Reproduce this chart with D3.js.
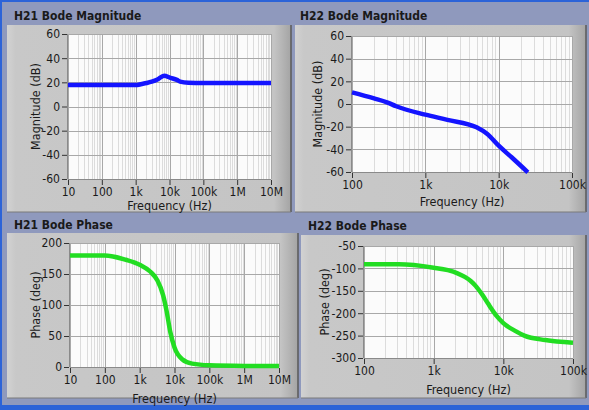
<!DOCTYPE html>
<html>
<head>
<meta charset="utf-8">
<script src="https://d3js.org/d3.v7.min.js"></script>
<style>
body { margin: 0; padding: 0; background: #8f99bd; }
svg text { font-family: "Liberation Sans Narrow", "DejaVu Sans Condensed", "Liberation Sans", sans-serif; fill: #1a1a1a; }
.title { font-weight: bold; font-size: 12px; }
.tick { font-size: 12px; }
.lbl { font-size: 12.5px; }
</style>
</head>
<body>
<svg id="chart" width="589" height="410"></svg>
<script>
// values
var h21MagFreq = [10, 100, 1000, 1500, 2100, 3000, 4400, 6900, 10700, 16500, 20600, 36000, 100000, 1e6, 1e7];
var h21MagDb   = [17.7, 17.7, 17.7, 18.6, 19.4, 20.5, 22.3, 25.5, 23.7, 22, 20.6, 19.7, 19.5, 19.5, 19.5];

var h22MagFreq = [100, 200, 300, 400, 1000, 2000, 5000, 7000, 10000, 15000, 25000];
var h22MagDb   = [10.3, 5, 1.5, -2, -9.4, -14, -20.6, -26.5, -36.8, -47, -60.3];

var h21PhFreq = [10, 100, 400, 1000, 2000, 3200, 4700, 5900, 7600, 10000, 16600, 32000, 100000, 1e6, 1e7];
var h21PhDeg  = [180, 180, 173, 165, 154, 140, 116, 91, 56, 31.5, 12.5, 5.4, 2.7, 1.8, 1.6];

var h22PhFreq = [100, 316, 1000, 1600, 2200, 2800, 3400, 4000, 5000, 6000, 8000, 10000, 15000, 20000, 40000, 100000];
var h22PhDeg  = [-91, -91, -98.5, -104, -111, -119, -128, -139, -159, -178, -206, -222, -240, -250, -260, -266];

var freqTicks  = [10, 100, 1000, 10000, 100000, 1e6, 1e7];
var freqLabels = ["10", "100", "1k", "10k", "100k", "1M", "10M"];
var magTicks   = [60, 40, 20, 0, -20, -40, -60];
var h21PhTicks = [200, 150, 100, 50, 0];
var h22PhTicks = [-50, -100, -150, -200, -250, -300];

var svg = d3.select("#chart");

// window frame
svg.append("rect").attr("x",0).attr("y",0).attr("width",589).attr("height",410).attr("fill","#8f99bd");
svg.append("rect").attr("x",0).attr("y",0).attr("width",589).attr("height",2).attr("fill","#2c63d8");
svg.append("rect").attr("x",0).attr("y",0).attr("width",2).attr("height",410).attr("fill","#2c63d8");
svg.append("rect").attr("x",0).attr("y",405).attr("width",589).attr("height",5).attr("fill","#2c63d8");

var defs = svg.append("defs");
var grad = defs.append("linearGradient").attr("id","pg").attr("x1","0").attr("x2","1").attr("y1","0").attr("y2","0");
grad.append("stop").attr("offset","0%").attr("stop-color","#d2d2d2");
grad.append("stop").attr("offset","3%").attr("stop-color","#c8c8c8");
grad.append("stop").attr("offset","94%").attr("stop-color","#c4c4c4");
grad.append("stop").attr("offset","100%").attr("stop-color","#a4a4a4");

function fmtFreq(d) {
  var i = freqTicks.indexOf(d);
  return i >= 0 ? freqLabels[i] : "";
}

function drawPanel(p) {
  // panel box
  svg.append("text").attr("class","title").attr("x",p.tx).attr("y",p.ty).text(p.title);
  svg.append("rect").attr("x",p.px).attr("y",p.py).attr("width",p.pw).attr("height",p.ph)
    .attr("fill","url(#pg)");
  svg.append("line").attr("x1",p.px+p.pw).attr("x2",p.px+p.pw).attr("y1",p.py).attr("y2",p.py+p.ph)
    .attr("stroke","#5a5a5a").attr("stroke-width",1.5);
  svg.append("line").attr("x1",p.px).attr("x2",p.px+p.pw).attr("y1",p.py+p.ph).attr("y2",p.py+p.ph)
    .attr("stroke","#7a7a7a").attr("stroke-width",1);

  var x = d3.scaleLog().domain(p.xDomain).range([p.x0, p.x1]);
  var y = d3.scaleLinear().domain(p.yDomain).range([p.y1, p.y0]);

  var g = svg.append("g");
  g.append("rect").attr("x",p.x0).attr("y",p.y0).attr("width",p.x1-p.x0).attr("height",p.y1-p.y0)
    .attr("fill","#fbfbfb");

  // minor vertical grid
  var minor = [];
  freqTicks.forEach(function(d) {
    for (var k = 2; k <= 9; k++) { var v = d*k; if (v > p.xDomain[0] && v < p.xDomain[1]) minor.push(v); }
  });
  g.selectAll(".mg").data(minor).join("line")
    .attr("x1",function(d){return Math.round(x(d))+0.5;}).attr("x2",function(d){return Math.round(x(d))+0.5;})
    .attr("y1",p.y0).attr("y2",p.y1).attr("stroke","#dcdcdc");

  var xt = freqTicks.filter(function(d){ return d >= p.xDomain[0] && d <= p.xDomain[1]; });
  g.selectAll(".vg").data(xt).join("line")
    .attr("x1",function(d){return Math.round(x(d))+0.5;}).attr("x2",function(d){return Math.round(x(d))+0.5;})
    .attr("y1",p.y0).attr("y2",p.y1).attr("stroke","#a8a8a8");
  g.selectAll(".hg").data(p.yTicks).join("line")
    .attr("x1",p.x0).attr("x2",p.x1)
    .attr("y1",function(d){return Math.round(y(d))+0.5;}).attr("y2",function(d){return Math.round(y(d))+0.5;})
    .attr("stroke","#a8a8a8");

  // axes
  var ax = d3.axisBottom(x).tickValues(xt).tickFormat(fmtFreq).tickSize(5).tickSizeOuter(0).tickPadding(2);
  var gx = svg.append("g").attr("transform","translate(0,"+(p.y1+1)+")").call(ax);
  gx.select(".domain").remove();
  gx.selectAll("line").attr("stroke","#333");
  gx.selectAll("text").attr("class","tick").attr("fill","#1a1a1a");

  var ay = d3.axisLeft(y).tickValues(p.yTicks).tickFormat(function(d){ return String(d); })
    .tickSize(5).tickSizeOuter(0).tickPadding(2);
  var gy = svg.append("g").attr("transform","translate("+(p.x0-1)+",0)").call(ay);
  gy.select(".domain").remove();
  gy.selectAll("line").attr("stroke","#333");
  gy.selectAll("text").attr("class","tick").attr("fill","#1a1a1a");

  svg.append("line").attr("x1",p.x0-0.5).attr("x2",p.x0-0.5).attr("y1",p.y0).attr("y2",p.y1)
    .attr("stroke","#8a8a8a");
  svg.append("line").attr("x1",p.x0).attr("x2",p.x1).attr("y1",p.y1+0.5).attr("y2",p.y1+0.5)
    .attr("stroke","#8a8a8a");

  // labels
  svg.append("text").attr("class","lbl").attr("x",(p.x0+p.x1)/2).attr("y",p.xly)
    .attr("text-anchor","middle").text("Frequency (Hz)");
  svg.append("text").attr("class","lbl")
    .attr("transform","translate("+p.ylx+","+((p.y0+p.y1)/2)+") rotate(-90)")
    .attr("text-anchor","middle").text(p.yLabel);

  // curve
  var line = d3.line().x(function(d){return x(d[0]);}).y(function(d){return y(d[1]);}).curve(d3.curveMonotoneX);
  var pts = p.freq.map(function(f,i){ return [f, p.vals[i]]; });
  svg.append("path").datum(pts).attr("d",line).attr("fill","none")
    .attr("stroke",p.color).attr("stroke-width",4.5).attr("stroke-linejoin","round");
}

drawPanel({
  title:"H21 Bode Magnitude", tx:14, ty:20,
  px:7, py:25, pw:284, ph:187,
  x0:68, x1:271, y0:34, y1:179,
  xDomain:[10,1e7], yDomain:[-60,60], yTicks:magTicks,
  yLabel:"Magnitude (dB)", ylx:40, xly:210,
  freq:h21MagFreq, vals:h21MagDb, color:"#1414ff"
});
drawPanel({
  title:"H22 Bode Magnitude", tx:300, ty:20,
  px:295, py:25, pw:291, ph:187,
  x0:352, x1:572, y0:36, y1:172,
  xDomain:[100,1e5], yDomain:[-60,60], yTicks:magTicks,
  yLabel:"Magnitude (dB)", ylx:322, xly:206,
  freq:h22MagFreq, vals:h22MagDb, color:"#1414ff"
});
drawPanel({
  title:"H21 Bode Phase", tx:14, ty:229,
  px:7, py:233, pw:291, ph:165,
  x0:70, x1:279, y0:243, y1:367,
  xDomain:[10,1e7], yDomain:[0,200], yTicks:h21PhTicks,
  yLabel:"Phase (deg)", ylx:40, xly:403,
  freq:h21PhFreq, vals:h21PhDeg, color:"#22dd22"
});
drawPanel({
  title:"H22 Bode Phase", tx:308, ty:230,
  px:301, py:235, pw:285, ph:163,
  x0:364, x1:573, y0:246, y1:358,
  xDomain:[100,1e5], yDomain:[-300,-50], yTicks:h22PhTicks,
  yLabel:"Phase (deg)", ylx:329, xly:394,
  freq:h22PhFreq, vals:h22PhDeg, color:"#22dd22"
});
</script>
</body>
</html>
